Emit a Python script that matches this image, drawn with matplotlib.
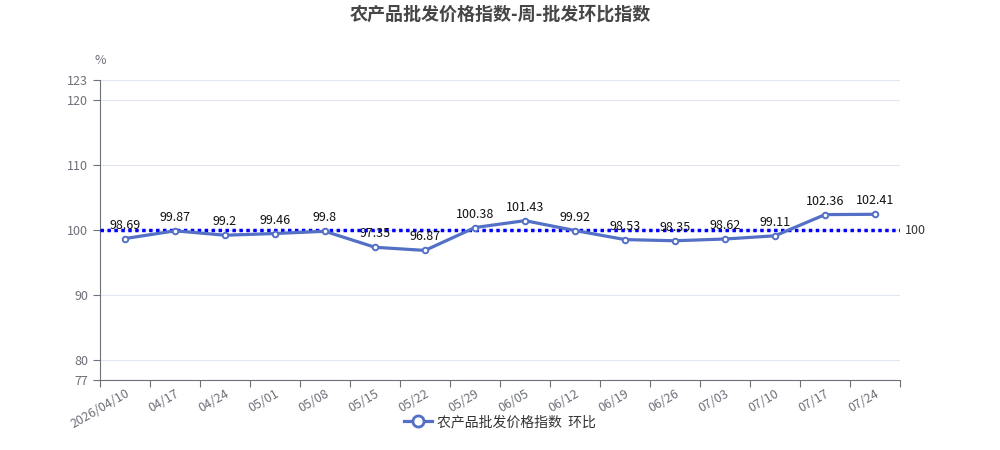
import numpy as np
import matplotlib.pyplot as plt

plt.rcParams['font.family'] = ['Noto Sans CJK SC', 'DejaVu Sans']

dates = ['2026/04/10', '04/17', '04/24', '05/01', '05/08', '05/15', '05/22',
         '05/29', '06/05', '06/12', '06/19', '06/26', '07/03', '07/10',
         '07/17', '07/24']
values = [98.69, 99.87, 99.2, 99.46, 99.8, 97.35, 96.87, 100.38, 101.43,
          99.92, 98.53, 98.35, 98.62, 99.11, 102.36, 102.41]
y_ticks = [77, 80, 90, 100, 110, 120, 123]
ref_value = 100
series_name = '农产品批发价格指数  环比'

axis_grey = '#6E7079'
line_blue = '#5470C6'

fig = plt.figure(figsize=(10, 4.5), dpi=100)
ax = fig.add_axes([0.1, 1 - 380 / 450, 0.8, 300 / 450])

x = np.arange(len(dates))
ax.plot(x, values, color=line_blue, lw=2.3, marker='o', ms=4,
        mfc='white', mec=line_blue, mew=1.4, zorder=4)

for xi, v in zip(x, values):
    ax.annotate(f'{v:g}', (xi, v), xytext=(0, 5), textcoords='offset points',
                ha='center', va='bottom', fontsize=9, color='#111111',
                zorder=5)

ax.axhline(ref_value, color='#0000FF', lw=2.5, ls=(0, (1, 1)), zorder=3)
ax.text(1.006, ref_value, f'{ref_value}', transform=ax.get_yaxis_transform(),
        ha='left', va='center', fontsize=9, color='#333333')

ax.set_xlim(-0.5, len(dates) - 0.5)
ax.set_ylim(y_ticks[0], y_ticks[-1])
ax.set_yticks(y_ticks)
ax.grid(axis='y', color='#E0E6F1', lw=0.8)
ax.set_axisbelow(True)

ax.set_xticks(np.arange(-0.5, len(dates)), labels=[])
ax.set_xticks(x, labels=dates, minor=True)
ax.tick_params(axis='x', which='major', length=5, color=axis_grey)
ax.tick_params(axis='x', which='minor', length=0, pad=5, labelsize=9,
               labelcolor=axis_grey)
for lab in ax.get_xticklabels(minor=True):
    lab.set_rotation(30)
    lab.set_ha('right')
    lab.set_rotation_mode('anchor')
ax.tick_params(axis='y', length=5, color=axis_grey, labelsize=9,
               labelcolor=axis_grey)

for s in ['top', 'right']:
    ax.spines[s].set_visible(False)
for s in ['left', 'bottom']:
    ax.spines[s].set_color(axis_grey)

fig.text(0.1, 1 - 60 / 450, '%', ha='center', va='center', fontsize=9,
         color=axis_grey)
fig.suptitle('农产品批发价格指数-周-批发环比指数', y=1 - 14 / 450, va='center',
             fontsize=13, fontweight='bold', color='#464646')

handle, = ax.plot([], [], color=line_blue, lw=2.3, marker='o', ms=8,
                  mfc='white', mec=line_blue, mew=2)
fig.legend([handle], [series_name], loc='center',
           bbox_to_anchor=(0.5, 1 - 422 / 450), frameon=False,
           fontsize=10, handlelength=2.0, handletextpad=0.4,
           labelcolor='#333333')

fig.savefig('out.png', dpi=100)
